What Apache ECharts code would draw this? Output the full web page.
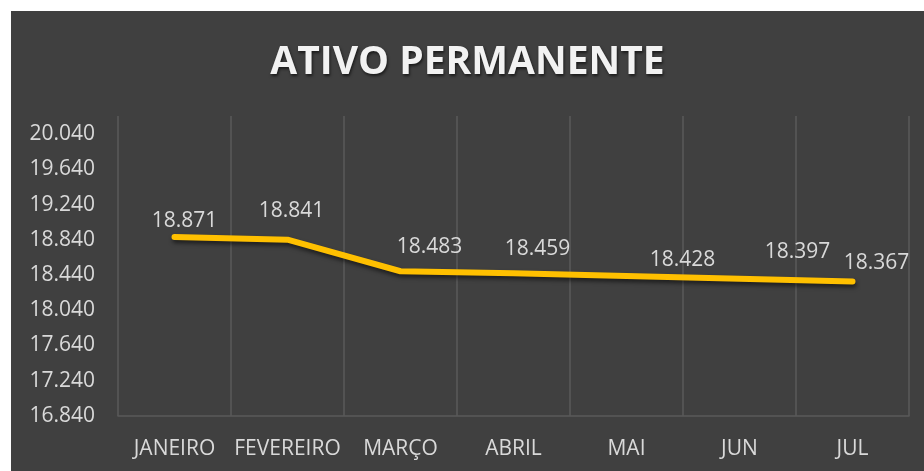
<!DOCTYPE html>
<html>
<head>
<meta charset="utf-8">
<script src="https://cdn.jsdelivr.net/npm/echarts@6/dist/echarts.min.js"></script>
<style>
  html, body { margin: 0; padding: 0; background: #ffffff; }
  #chart { position: absolute; left: 11px; top: 11px; width: 913px; height: 460px; }
</style>
</head>
<body>
<div id="chart"></div>
<script>
const months = ["JANEIRO", "FEVEREIRO", "MARÇO", "ABRIL", "MAI", "JUN", "JUL"];
const ativoPermanente = [18871, 18841, 18483, 18459, 18428, 18397, 18367];
// where each value label sits, relative to its point (as in the original)
const labelShift = [[10, -16], [4, -29], [29, -24], [24, -24], [56, -16], [58, -27], [24, -18]];

const yMin = 16840;
const yMax = 20245;
const yStep = 400;

const fmt = v => String(Math.round(v)).replace(/\B(?=(\d{3})+(?!\d))/g, ".");
const font = "'Open Sans', sans-serif";
const dot = 2;

const chart = echarts.init(document.getElementById("chart"));
chart.setOption({
  backgroundColor: "#404040",
  animation: false,
  title: {
    text: "ATIVO PERMANENTE",
    left: "center",
    top: 27,
    textStyle: {
      color: "#f2f2f2",
      fontFamily: font,
      fontWeight: "bold",
      fontSize: 39,
      textShadowColor: "rgba(0,0,0,0.6)",
      textShadowBlur: 3,
      textShadowOffsetX: 1,
      textShadowOffsetY: 2
    }
  },
  grid: { left: 107, right: 15, top: 105, bottom: 55 },
  xAxis: {
    type: "category",
    data: months,
    boundaryGap: true,
    axisTick: { show: false, interval: 0 },
    axisLine: { lineStyle: { color: "#5a5a5a", width: 1.5 } },
    splitLine: { show: true, interval: 0, lineStyle: { color: "#5a5a5a", width: 1.5 } },
    axisLabel: { interval: 0, color: "#d9d9d9", fontFamily: font, fontSize: 21, margin: 23 }
  },
  yAxis: {
    type: "value",
    min: yMin,
    max: yMax,
    interval: yStep,
    axisLine: { show: false },
    axisTick: { show: false },
    splitLine: { show: false },
    axisLabel: {
      color: "#d9d9d9",
      fontFamily: font,
      fontSize: 21,
      margin: 23,
      showMaxLabel: false,
      formatter: v => (v > yMax - 1 ? "" : fmt(v))
    }
  },
  series: [
    {
      type: "line",
      data: ativoPermanente.map((v, i) => ({
        value: v,
        label: {
          position: [labelShift[i][0] + dot / 2, labelShift[i][1] + dot / 2],
          align: "center",
          verticalAlign: "middle"
        }
      })),
      symbol: "circle",
      symbolSize: dot,
      showSymbol: true,
      itemStyle: { color: "rgba(0,0,0,0)" },
      lineStyle: {
        color: "#FFC000",
        width: 6,
        cap: "round",
        join: "round",
        shadowColor: "rgba(0,0,0,0.55)",
        shadowBlur: 4,
        shadowOffsetX: 1,
        shadowOffsetY: 3
      },
      label: {
        show: true,
        color: "#d9d9d9",
        fontFamily: font,
        fontSize: 21,
        formatter: p => fmt(p.value)
      },
      labelLayout: { hideOverlap: false }
    }
  ]
});
</script>
</body>
</html>
